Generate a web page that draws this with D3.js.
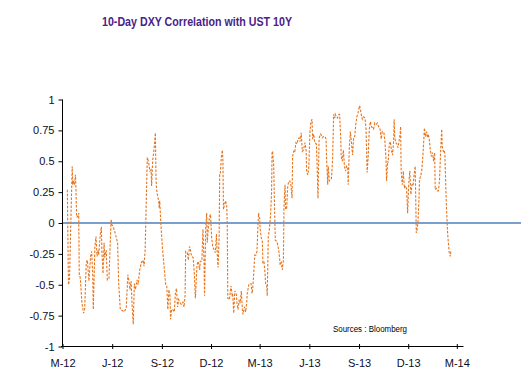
<!DOCTYPE html>
<html><head><meta charset="utf-8">
<script src="https://cdn.jsdelivr.net/npm/d3@7"></script>
<style>body{margin:0;background:#fff}svg{display:block}</style>
</head><body>
<svg id="c" width="521" height="385"></svg>
<script>
const title = "10-Day DXY Correlation with UST 10Y";
const source = "Sources  : Bloomberg";
const yTicks = [-1,-0.75,-0.5,-0.25,0,0.25,0.5,0.75,1];
const xTickDates = ["2012-03-01","2012-06-01","2012-09-01","2012-12-01","2013-03-01","2013-06-01","2013-09-01","2013-12-01","2014-03-01"];
const xTickLabels = ["M-12","J-12","S-12","D-12","M-13","J-13","S-13","D-13","M-14"];

const dates = [
"2012-03-10","2012-03-12","2012-03-14","2012-03-17","2012-03-19","2012-03-20","2012-03-21","2012-03-23","2012-03-25","2012-03-26","2012-03-27","2012-03-29","2012-03-31",
"2012-04-01","2012-04-03","2012-04-06","2012-04-09","2012-04-11","2012-04-14","2012-04-16","2012-04-19","2012-04-22","2012-04-24","2012-04-26","2012-04-27","2012-04-30",
"2012-05-02","2012-05-04","2012-05-06","2012-05-07","2012-05-10","2012-05-12","2012-05-13","2012-05-15","2012-05-17","2012-05-18","2012-05-21","2012-05-23","2012-05-26","2012-05-30","2012-05-31",
"2012-06-03","2012-06-07","2012-06-11","2012-06-13","2012-06-16","2012-06-20","2012-06-23","2012-06-27","2012-06-30",
"2012-07-02","2012-07-04","2012-07-06","2012-07-08","2012-07-10","2012-07-12","2012-07-14","2012-07-17","2012-07-19","2012-07-22","2012-07-25","2012-07-28","2012-07-30",
"2012-08-01","2012-08-03","2012-08-05","2012-08-07","2012-08-10","2012-08-12","2012-08-13","2012-08-15","2012-08-16","2012-08-18","2012-08-20","2012-08-21","2012-08-22","2012-08-24","2012-08-26","2012-08-27","2012-08-28","2012-08-30",
"2012-09-02","2012-09-05","2012-09-08","2012-09-10","2012-09-12","2012-09-14","2012-09-16","2012-09-17","2012-09-19","2012-09-21","2012-09-24","2012-09-26","2012-09-28","2012-09-30",
"2012-10-02","2012-10-04","2012-10-07","2012-10-10","2012-10-12","2012-10-14","2012-10-15","2012-10-18","2012-10-20","2012-10-22","2012-10-23","2012-10-26","2012-10-29","2012-10-31",
"2012-11-02","2012-11-05","2012-11-07","2012-11-10","2012-11-11","2012-11-14","2012-11-16","2012-11-18","2012-11-19","2012-11-21","2012-11-23","2012-11-24","2012-11-26","2012-11-28","2012-11-30",
"2012-12-02","2012-12-04","2012-12-07","2012-12-09","2012-12-11","2012-12-13","2012-12-14","2012-12-16","2012-12-17","2012-12-18","2012-12-20","2012-12-22","2012-12-23","2012-12-24","2012-12-26","2012-12-28","2012-12-30","2012-12-31",
"2013-01-01","2013-01-04","2013-01-07","2013-01-09","2013-01-10","2013-01-12","2013-01-14","2013-01-17","2013-01-18","2013-01-20","2013-01-22","2013-01-24","2013-01-26","2013-01-28","2013-01-29",
"2013-02-01","2013-02-03","2013-02-05","2013-02-06","2013-02-09","2013-02-11","2013-02-13","2013-02-15","2013-02-16","2013-02-18","2013-02-20","2013-02-22","2013-02-24","2013-02-26","2013-02-27",
"2013-03-01","2013-03-02","2013-03-04","2013-03-06","2013-03-07","2013-03-09","2013-03-11","2013-03-12","2013-03-14","2013-03-15","2013-03-17","2013-03-19","2013-03-21","2013-03-23","2013-03-24","2013-03-25","2013-03-27","2013-03-28","2013-03-30",
"2013-04-02","2013-04-04","2013-04-06","2013-04-08","2013-04-10","2013-04-12","2013-04-14","2013-04-15","2013-04-17","2013-04-18","2013-04-20","2013-04-22","2013-04-24","2013-04-26","2013-04-28","2013-04-30",
"2013-05-01","2013-05-03","2013-05-05","2013-05-07","2013-05-09","2013-05-11","2013-05-13","2013-05-15","2013-05-17","2013-05-19","2013-05-21","2013-05-24","2013-05-26","2013-05-27","2013-05-29","2013-05-31",
"2013-06-02","2013-06-04","2013-06-06","2013-06-07","2013-06-09","2013-06-11","2013-06-14","2013-06-15","2013-06-17","2013-06-19","2013-06-20","2013-06-22","2013-06-25","2013-06-27","2013-06-30",
"2013-07-02","2013-07-03","2013-07-05","2013-07-06","2013-07-08","2013-07-10","2013-07-12","2013-07-14","2013-07-16","2013-07-18","2013-07-19","2013-07-21","2013-07-23","2013-07-26","2013-07-27","2013-07-29","2013-07-30",
"2013-08-01","2013-08-03","2013-08-05","2013-08-07","2013-08-09","2013-08-11","2013-08-12","2013-08-14","2013-08-16","2013-08-18","2013-08-20","2013-08-22","2013-08-24","2013-08-26","2013-08-28","2013-08-30",
"2013-09-02","2013-09-04","2013-09-05","2013-09-07","2013-09-09","2013-09-12","2013-09-14","2013-09-16","2013-09-18","2013-09-20","2013-09-22","2013-09-24","2013-09-26","2013-09-28","2013-09-30",
"2013-10-03","2013-10-05","2013-10-08","2013-10-10","2013-10-12","2013-10-14","2013-10-17","2013-10-19","2013-10-21","2013-10-22","2013-10-24","2013-10-25","2013-10-27","2013-10-29","2013-10-31",
"2013-11-02","2013-11-04","2013-11-05","2013-11-06","2013-11-08","2013-11-10","2013-11-12","2013-11-14","2013-11-16","2013-11-17","2013-11-18","2013-11-20","2013-11-22","2013-11-24","2013-11-26","2013-11-28","2013-11-30",
"2013-12-02","2013-12-04","2013-12-06","2013-12-08","2013-12-10","2013-12-11","2013-12-13","2013-12-14","2013-12-16","2013-12-17","2013-12-19","2013-12-21","2013-12-22","2013-12-24","2013-12-26","2013-12-28","2013-12-30","2013-12-31",
"2014-01-02","2014-01-04","2014-01-06","2014-01-07","2014-01-09","2014-01-11","2014-01-13","2014-01-15","2014-01-17","2014-01-19","2014-01-20","2014-01-22","2014-01-24","2014-01-26","2014-01-28","2014-01-30",
"2014-02-01","2014-02-02","2014-02-04","2014-02-06","2014-02-07","2014-02-09","2014-02-10","2014-02-12","2014-02-13","2014-02-14","2014-02-15","2014-02-17","2014-02-18"
];
const corr = [
0.27,-0.50,-0.46,0.11,0.46,0.31,0.34,0.31,0.39,0.27,0.05,0.05,0.08,
-0.41,-0.45,-0.65,-0.73,-0.70,-0.32,-0.30,-0.47,-0.27,-0.23,-0.43,-0.70,-0.19,
-0.11,-0.27,-0.22,-0.26,-0.09,-0.03,-0.24,-0.41,-0.16,-0.28,-0.22,-0.46,-0.45,0.03,-0.01,
-0.03,-0.09,-0.16,-0.49,-0.70,-0.71,-0.72,-0.69,-0.42,
-0.47,-0.54,-0.47,-0.68,-0.82,-0.49,-0.54,-0.46,-0.50,-0.38,-0.32,-0.30,-0.35,
-0.22,0.16,0.53,0.50,0.42,0.43,0.30,0.51,0.54,0.62,0.73,0.38,0.28,0.22,0.18,0.12,0.18,0.00,
-0.20,-0.35,-0.50,-0.51,-0.70,-0.54,-0.59,-0.78,-0.70,-0.70,-0.72,-0.57,-0.53,-0.68,
-0.62,-0.64,-0.66,-0.64,-0.68,-0.58,-0.23,-0.24,-0.30,-0.19,-0.20,-0.27,-0.28,-0.41,
-0.61,-0.34,-0.31,-0.38,-0.31,-0.31,-0.05,-0.31,-0.59,-0.05,0.08,-0.16,-0.04,0.05,0.07,
-0.11,-0.19,-0.22,-0.24,-0.09,-0.30,-0.36,-0.11,0.39,0.39,0.53,0.59,0.51,0.11,0.15,0.18,0.14,0.00,
-0.61,-0.62,-0.51,-0.58,-0.57,-0.73,-0.55,-0.58,-0.65,-0.70,-0.62,-0.65,-0.55,-0.70,-0.74,
-0.68,-0.72,-0.65,-0.57,-0.50,-0.49,-0.49,-0.57,-0.54,-0.41,-0.26,-0.26,-0.23,-0.01,0.08,
0.04,-0.05,-0.12,-0.15,-0.32,-0.31,-0.41,-0.49,-0.50,-0.59,-0.11,-0.05,0.05,0.24,0.58,0.58,0.47,0.24,-0.14,
-0.15,-0.19,-0.24,-0.34,-0.32,-0.38,-0.30,0.12,0.31,0.11,0.12,0.30,0.34,0.34,0.30,0.20,
0.54,0.58,0.57,0.65,0.64,0.68,0.69,0.66,0.73,0.58,0.59,0.65,0.59,0.42,0.39,0.45,
0.73,0.82,0.84,0.68,0.72,0.65,0.64,0.53,0.20,0.68,0.70,0.72,0.69,0.70,0.70,
0.68,0.51,0.31,0.46,0.34,0.35,0.36,0.51,0.88,0.85,0.88,0.86,0.85,0.88,0.88,0.70,0.54,
0.50,0.59,0.46,0.42,0.46,0.45,0.31,0.61,0.74,0.65,0.55,0.69,0.70,0.80,0.86,0.89,
0.95,0.91,0.88,0.84,0.86,0.85,0.76,0.41,0.54,0.76,0.82,0.78,0.77,0.76,0.81,
0.80,0.81,0.77,0.76,0.68,0.74,0.73,0.66,0.51,0.34,0.50,0.49,0.64,0.66,0.59,
0.55,0.66,0.84,0.70,0.65,0.64,0.61,0.66,0.72,0.78,0.42,0.31,0.42,0.28,0.30,0.28,0.08,
0.32,0.42,0.23,0.31,0.30,0.35,0.43,0.46,-0.08,-0.07,0.00,0.19,0.35,0.38,0.42,0.53,0.68,0.77,
0.70,0.74,0.69,0.72,0.68,0.59,0.54,0.57,0.50,0.57,0.27,0.28,0.26,0.26,0.35,0.57,
0.76,0.62,0.58,0.59,0.55,0.24,0.11,-0.08,-0.14,-0.19,-0.24,-0.27,-0.23
];

const parse = d3.timeParse("%Y-%m-%d");
const data = dates.map((d,i)=>({date:parse(d), v:corr[i]}));

const svg = d3.select("#c");
const font = "Liberation Sans, Arial, sans-serif";
const txtCol = "#0d0d26";

const x = d3.scaleTime().domain([parse("2012-03-01"), parse("2014-03-01")]).range([62.5, 456.8]);
const y = d3.scaleLinear().domain([-1,1]).range([346.5, 99.5]);

// title
svg.append("text").attr("x",102).attr("y",26).attr("font-family",font).attr("font-weight","bold")
  .attr("font-size",12).attr("fill","#4a2288").attr("textLength",190).attr("lengthAdjust","spacingAndGlyphs").text(title);

// zero line
svg.append("line").attr("x1",62.5).attr("x2",521).attr("y1",y(0)).attr("y2",y(0))
  .attr("stroke","#4f7fbc").attr("stroke-width",1.3);

// series line
const line = d3.line().x(d=>x(d.date)).y(d=>y(d.v));
svg.append("path").datum(data).attr("d",line).attr("fill","none")
  .attr("stroke","#e8741c").attr("stroke-width",1.1).attr("stroke-dasharray","2.5,1.5");

// y axis
const yAxis = d3.axisLeft(y).tickValues(yTicks).tickSize(4).tickPadding(4).tickFormat(d=>String(d));
const gy = svg.append("g").attr("transform","translate(62.5,0)").call(yAxis);
gy.select(".domain").remove();
gy.append("line").attr("x1",0).attr("x2",0).attr("y1",99.5).attr("y2",346.5).attr("stroke","#000").attr("stroke-width",1);
gy.selectAll(".tick line").attr("stroke","#000");
gy.selectAll(".tick text").attr("font-family",font).attr("font-size",11).attr("fill",txtCol);

// x axis
const tickDates = xTickDates.map(parse);
const xAxis = d3.axisBottom(x).tickValues(tickDates).tickSize(5).tickPadding(8)
  .tickFormat((d,i)=>xTickLabels[i]);
const gx = svg.append("g").attr("transform","translate(0,"+y(-1)+")").call(xAxis);
gx.select(".domain").remove();
gx.append("line").attr("x1",61).attr("x2",463.5).attr("y1",0).attr("y2",0).attr("stroke","#000").attr("stroke-width",1);
gx.selectAll(".tick line").attr("y1",-2.5).attr("y2",2.5).attr("stroke","#000");
gx.selectAll(".tick text").attr("font-family",font).attr("font-size",11).attr("fill",txtCol);

// source
svg.append("text").attr("x",333).attr("y",332).attr("font-family",font).attr("font-size",8.5)
  .attr("fill","#000").attr("textLength",74).attr("lengthAdjust","spacingAndGlyphs").text(source);
</script>
</body></html>
